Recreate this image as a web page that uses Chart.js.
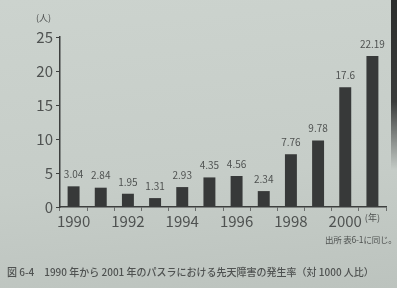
<!DOCTYPE html>
<html>
<head>
<meta charset="utf-8">
<script src="https://cdn.jsdelivr.net/npm/chart.js@4.4.1/dist/chart.umd.min.js"></script>
<style>
  html, body { margin: 0; padding: 0; }
  body { width: 397px; height: 288px; overflow: hidden; position: relative;
         background: linear-gradient(175deg, #ccd3ce 0%, #c6cdc8 60%, #bcc3be 100%);
         font-family: "Noto Sans CJK JP", "Noto Sans", sans-serif; color: #4f5251; }
  #wrap { position: absolute; left: 0; top: 0; width: 397px; height: 288px; }
  .txt { position: absolute; white-space: nowrap; }
  #unit { left: 36px; top: 11px; font-size: 9px; }
  #source { left: 325px; top: 233px; font-size: 8.5px; letter-spacing: -0.2px; }
  #caption { left: 7px; top: 264px; font-size: 10px; font-weight: 500; letter-spacing: 0px; }
  #edge { position: absolute; right: 0; top: 0; width: 6px; height: 170px;
          background: linear-gradient(to bottom, #2c2e2d 0%, #3a3c3b 60%, rgba(60,62,61,0) 100%); }
</style>
</head>
<body>
<div id="wrap"><canvas id="c" width="397" height="288"></canvas></div>
<div class="txt" id="unit">(人)</div>
<div class="txt" id="source">出所 表6-1に同じ。</div>
<div class="txt" id="caption">図 6-4　1990 年から 2001 年のパスラにおける先天障害の発生率（対 1000 人比）</div>
<div id="edge"></div>
<script>
const years = ['1990','1991','1992','1993','1994','1995','1996','1997','1998','1999','2000','2001'];
const tickLabels = ['1990','','1992','','1994','','1996','','1998','','2000','(年)'];
const rates = [3.04, 2.84, 1.95, 1.31, 2.93, 4.35, 4.56, 2.34, 7.76, 9.78, 17.6, 22.19];
const yTicks = [0, 5, 10, 15, 20, 25];

const textColor = '#4f5251';
const fontFam = '"Noto Sans CJK JP", "Noto Sans", sans-serif';

const valueLabels = {
  id: 'valueLabels',
  afterDatasetsDraw(chart) {
    const ctx = chart.ctx;
    const meta = chart.getDatasetMeta(0);
    ctx.save();
    ctx.fillStyle = textColor;
    ctx.font = '10px ' + fontFam;
    ctx.textAlign = 'center';
    ctx.textBaseline = 'middle';
    meta.data.forEach((bar, i) => {
      ctx.fillText(String(rates[i]), bar.x, bar.y - 12);
    });
    ctx.restore();
  }
};

new Chart(document.getElementById('c'), {
  type: 'bar',
  data: {
    labels: years,
    datasets: [{
      data: rates,
      backgroundColor: '#373939',
      borderWidth: 0,
      barPercentage: 0.44,
      categoryPercentage: 1.0
    }]
  },
  options: {
    responsive: false,
    devicePixelRatio: 1,
    animation: false,
    layout: { padding: { left: 0, top: 37, right: 11, bottom: 51 } },
    plugins: { legend: { display: false }, tooltip: { enabled: false }, title: { display: false } },
    scales: {
      x: {
        afterFit(scale) { scale.height = 30; },
        grid: { display: true, drawOnChartArea: false, drawTicks: true, tickLength: 4, color: '#6a6d6c', offset: true },
        border: { display: true, color: '#3d3f3e', width: 1.5 },
        ticks: {
          autoSkip: false, maxRotation: 0, padding: 1,
          color: textColor,
          font: (ctx) => ({ family: fontFam, size: ctx.index === 11 ? 9 : 15 }),
          callback: (v, i) => tickLabels[i]
        }
      },
      y: {
        min: 0, max: 25,
        afterFit(scale) { scale.width = 60; },
        afterBuildTicks(scale) { scale.ticks = yTicks.map(v => ({ value: v })); },
        grid: { display: true, drawOnChartArea: false, drawTicks: true, tickLength: 4, color: '#3d3f3e' },
        border: { display: true, color: '#3d3f3e', width: 1.5 },
        ticks: { color: textColor, padding: 3, font: { family: fontFam, size: 15 } }
      }
    }
  },
  plugins: [valueLabels]
});
</script>
</body>
</html>
